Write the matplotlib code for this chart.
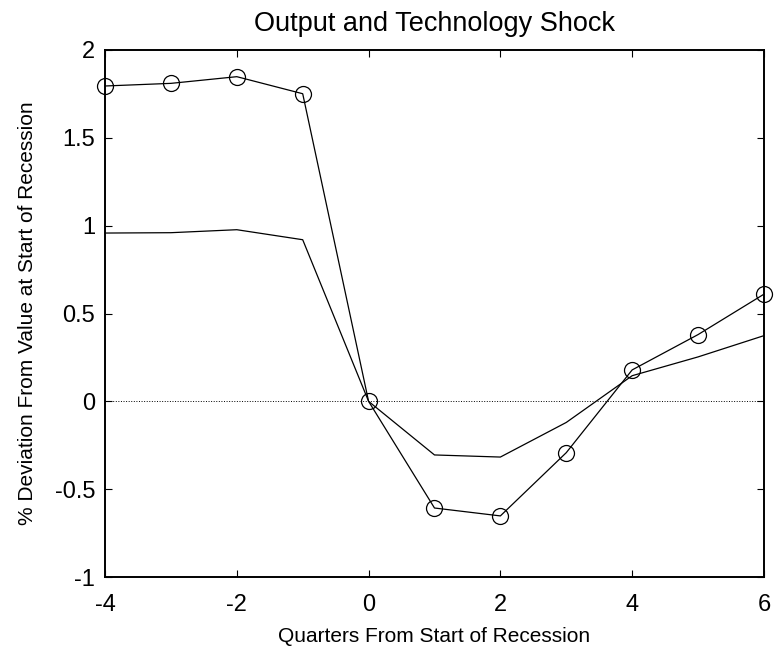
import matplotlib.pyplot as plt
import numpy as np

plt.rcParams['font.family'] = ['Liberation Sans', 'DejaVu Sans']

quarters = [-4, -3, -2, -1, 0, 1, 2, 3, 4, 5, 6]
# serie com circulos (produto)
output = [1.795, 1.81, 1.848, 1.751, 0.0, -0.607, -0.652, -0.292, 0.179, 0.380, 0.61]
# serie sem marcador (choque tecnologico)
tech = [0.958, 0.96, 0.977, 0.92, 0.0, -0.305, -0.317, -0.12, 0.146, 0.253, 0.374]

xticks = [-4, -2, 0, 2, 4, 6]
yticks = [-1, -0.5, 0, 0.5, 1, 1.5, 2]
ytick_labels = ['-1', '-0.5', '0', '0.5', '1', '1.5', '2']

fig = plt.figure(figsize=(7.74, 6.55), dpi=100)
ax = fig.add_axes([0.1357, 0.119, 0.8513, 0.8047])

ax.axhline(0, color='black', linestyle=':', linewidth=0.7)
ax.plot(quarters, tech, color='black', linewidth=0.9)
ax.plot(quarters, output, color='black', linewidth=0.9, marker='o',
        markersize=11.5, markerfacecolor='none', markeredgecolor='black',
        markeredgewidth=0.9, clip_on=False)

ax.set_xlim(-4, 6)
ax.set_ylim(-1, 2)
ax.set_xticks(xticks)
ax.set_xticklabels([str(t) for t in xticks])
ax.set_yticks(yticks)
ax.set_yticklabels(ytick_labels)
ax.tick_params(direction='in', length=5, width=0.8, labelsize=17,
               top=True, right=True)
ax.tick_params(axis='x', pad=12)
ax.tick_params(axis='y', pad=7)
for s in ax.spines.values():
    s.set_linewidth(1.4)

ax.set_title('Output and Technology Shock', fontsize=19.5, pad=14)
ax.set_xlabel('Quarters From Start of Recession', fontsize=15, labelpad=8)
ax.set_ylabel('% Deviation From Value at Start of Recession', fontsize=15, labelpad=13)

plt.savefig('out.png', dpi=100)
